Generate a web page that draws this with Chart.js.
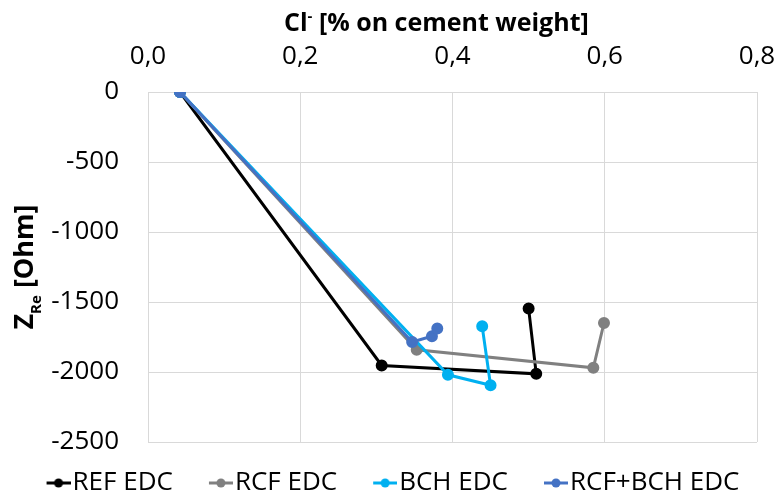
<!DOCTYPE html>
<html>
<head>
<meta charset="utf-8">
<script src="https://cdn.jsdelivr.net/npm/chart.js@4"></script>
<style>
  html, body { margin: 0; padding: 0; background: #fff; }
  #wrap { width: 778px; height: 497px; }
</style>
</head>
<body>
<div id="wrap"><canvas id="zreChart" width="778" height="497"></canvas></div>
<script>
// Cl- content (% on cement weight) vs real part of impedance (Ohm)
const seriesNames = ["REF EDC", "RCF EDC", "BCH EDC", "RCF+BCH EDC"];
const seriesColors = ["#000000", "#808080", "#00B0F0", "#4472C4"];

const refX = [0.042, 0.307, 0.510, 0.500];
const refY = [0, -1953, -2013, -1547];
const rcfX = [0.042, 0.353, 0.585, 0.599];
const rcfY = [0, -1841, -1970, -1650];
const bchX = [0.042, 0.394, 0.450, 0.439];
const bchY = [0, -2020, -2095, -1674];
const rcfBchX = [0.042, 0.347, 0.373, 0.380];
const rcfBchY = [0, -1786, -1745, -1690];

const xTicks = [0, 0.2, 0.4, 0.6, 0.8];
const yTicks = [0, -500, -1000, -1500, -2000, -2500];

const FONT = "'Open Sans', 'DejaVu Sans', sans-serif";
const LEGEND_BOX = 21;

function points(xs, ys) {
  return xs.map(function (x, i) { return { x: x, y: ys[i] }; });
}

// line-with-dot legend marker, pushed to the right edge so it sits next to the text
function legendMarker(color) {
  const c = document.createElement("canvas");
  c.width = LEGEND_BOX + 22;
  c.height = 12;
  const g = c.getContext("2d");
  const x0 = c.width - 24;
  g.strokeStyle = color;
  g.lineWidth = 3;
  g.beginPath();
  g.moveTo(x0, 6);
  g.lineTo(x0 + 24, 6);
  g.stroke();
  g.fillStyle = color;
  g.beginPath();
  g.arc(x0 + 12, 6, 4.5, 0, Math.PI * 2);
  g.fill();
  return c;
}

const allX = [refX, rcfX, bchX, rcfBchX];
const allY = [refY, rcfY, bchY, rcfBchY];

const datasets = seriesNames.map(function (name, i) {
  return {
    label: name,
    data: points(allX[i], allY[i]),
    showLine: true,
    borderColor: seriesColors[i],
    backgroundColor: seriesColors[i],
    pointBackgroundColor: seriesColors[i],
    pointBorderColor: seriesColors[i],
    borderWidth: 3,
    pointRadius: 4.5,
    pointHoverRadius: 4.5,
    tension: 0,
    order: seriesNames.length - i,
  };
});

// draws a run of [text, font, dy] pieces along a baseline
function drawPieces(ctx, pieces, x, y) {
  pieces.forEach(function (p) {
    ctx.font = p[1];
    ctx.fillText(p[0], x, y + p[2]);
    x += ctx.measureText(p[0]).width;
  });
}

function piecesWidth(ctx, pieces) {
  let w = 0;
  pieces.forEach(function (p) {
    ctx.font = p[1];
    w += ctx.measureText(p[0]).width;
  });
  return w;
}

// axis titles with super/subscripts
const axisTitles = {
  id: "axisTitles",
  afterDraw: function (chart) {
    const ctx = chart.ctx;
    const area = chart.chartArea;
    ctx.save();
    ctx.fillStyle = "#000";
    ctx.textBaseline = "alphabetic";

    const xBig = "bold 25px " + FONT;
    const xSmall = "bold 15px " + FONT;
    const xPieces = [["Cl", xBig, 0], ["-", xSmall, -10], [" [% on cement weight]", xBig, 0]];
    drawPieces(ctx, xPieces, 284, 31);

    ctx.translate(33, (area.top + area.bottom) / 2);
    ctx.rotate(-Math.PI / 2);
    const yBig = "bold 27px " + FONT;
    const ySmall = "bold 15px " + FONT;
    const yPieces = [["Z", yBig, 0], ["Re", ySmall, 8], [" [Ohm]", yBig, 0]];
    drawPieces(ctx, yPieces, -piecesWidth(ctx, yPieces) / 2, 0);
    ctx.restore();
  },
};

const ctx = document.getElementById("zreChart").getContext("2d");

new Chart(ctx, {
  type: "scatter",
  data: { datasets: datasets },
  plugins: [axisTitles],
  options: {
    responsive: false,
    animation: false,
    events: [],
    layout: {
      padding: { left: 0, right: 0, top: 0, bottom: -9 },
    },
    plugins: {
      tooltip: { enabled: false },
      legend: {
        display: true,
        position: "bottom",
        labels: {
          font: { family: FONT, size: 26 },
          color: "#000",
          usePointStyle: true,
          boxWidth: LEGEND_BOX,
          boxHeight: 12,
          padding: 28,
          generateLabels: function (chart) {
            return chart.data.datasets.map(function (ds, i) {
              return {
                text: ds.label,
                fillStyle: ds.borderColor,
                strokeStyle: ds.borderColor,
                fontColor: "#000",
                lineWidth: 0,
                pointStyle: legendMarker(ds.borderColor),
                datasetIndex: i,
                hidden: false,
              };
            });
          },
        },
      },
    },
    scales: {
      x: {
        type: "linear",
        position: "top",
        min: 0,
        max: 0.8,
        afterBuildTicks: function (scale) {
          scale.ticks = xTicks.map(function (v) { return { value: v }; });
        },
        afterFit: function (scale) {
          scale.height = 92;
          scale.paddingLeft = 0;
          scale.paddingRight = 21;
        },
        ticks: {
          font: { family: FONT, size: 26 },
          color: "#000",
          padding: 20,
          maxRotation: 0,
          callback: function (v) {
            return v.toFixed(1).replace(".", ",");
          },
        },
        grid: {
          color: "#d9d9d9",
          lineWidth: 1,
          drawTicks: false,
        },
        border: { display: true, color: "#d9d9d9", width: 1 },
      },
      y: {
        type: "linear",
        min: -2500,
        max: 0,
        afterBuildTicks: function (scale) {
          scale.ticks = yTicks.map(function (v) { return { value: v }; });
        },
        afterFit: function (scale) {
          scale.width = 148;
          scale.paddingTop = 0;
          scale.paddingBottom = 0;
        },
        ticks: {
          font: { family: FONT, size: 26 },
          color: "#000",
          padding: 29,
          callback: function (v) {
            return String(v);
          },
        },
        grid: {
          color: "#d9d9d9",
          lineWidth: 1,
          drawTicks: false,
        },
        border: { display: true, color: "#d9d9d9", width: 1 },
      },
    },
  },
});
</script>
</body>
</html>
